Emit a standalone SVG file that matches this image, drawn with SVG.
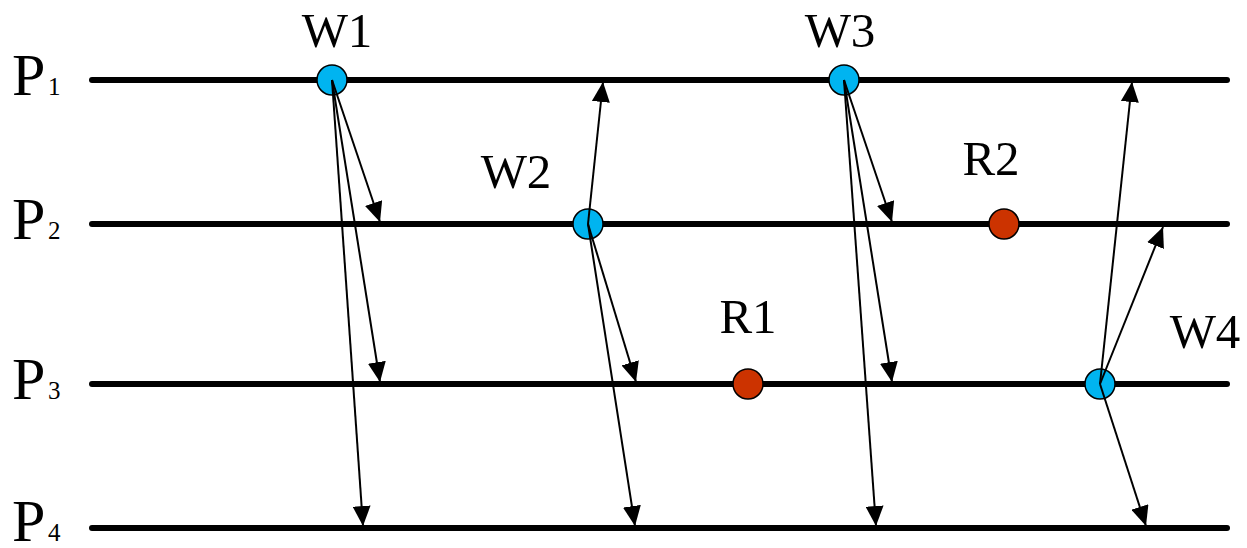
<svg xmlns="http://www.w3.org/2000/svg" width="1247" height="548" viewBox="0 0 1247 548">
<defs>
<marker id="ah" viewBox="0 0 20 18" refX="20" refY="9" markerWidth="20" markerHeight="18" markerUnits="userSpaceOnUse" orient="auto">
<path d="M0,0 L20,9 L0,18 z" fill="#000"/>
</marker>
<style>
.tl{stroke:#000;stroke-width:6;stroke-linecap:round;fill:none}
.ar{stroke:#000;stroke-width:2;fill:none;marker-end:url(#ah)}
.w{fill:#00B4F0;stroke:#000;stroke-width:1.5}
.r{fill:#CC3300;stroke:#000;stroke-width:1.5}
.lb{font-family:"Liberation Serif","Times New Roman",serif;font-size:49px;fill:#000}
.p{font-family:"Liberation Serif","Times New Roman",serif;font-size:60px;fill:#000}
.s{font-family:"Liberation Serif","Times New Roman",serif;font-size:25px;fill:#000}
</style>
</defs>
<rect width="1247" height="548" fill="#fff"/>
<g id="timelines">
<line class="tl" x1="92" y1="80" x2="1227" y2="80"/>
<line class="tl" x1="92" y1="224" x2="1227" y2="224"/>
<line class="tl" x1="92" y1="384" x2="1227" y2="384"/>
<line class="tl" x1="92" y1="528" x2="1227" y2="528"/>
</g>
<g id="process-labels">
<g id="P1"><text class="p" x="12" y="95">P</text><text class="s" x="48" y="95">1</text></g>
<g id="P2"><text class="p" x="12" y="239">P</text><text class="s" x="48" y="239">2</text></g>
<g id="P3"><text class="p" x="12" y="399">P</text><text class="s" x="48" y="399">3</text></g>
<g id="P4"><text class="p" x="12" y="541">P</text><text class="s" x="48" y="541">4</text></g>
</g>
<g id="W1"><circle class="w" cx="332" cy="80" r="15"/><text class="lb" x="337" y="47" text-anchor="middle">W1</text></g>
<g id="W2"><circle class="w" cx="588" cy="224" r="15"/><text class="lb" x="516" y="188" text-anchor="middle">W2</text></g>
<g id="W3"><circle class="w" cx="844" cy="80" r="15"/><text class="lb" x="840" y="47" text-anchor="middle">W3</text></g>
<g id="W4"><circle class="w" cx="1100" cy="384" r="15"/><text class="lb" x="1205" y="348" text-anchor="middle">W4</text></g>
<g id="R1"><circle class="r" cx="748" cy="384" r="15"/><text class="lb" x="748" y="333" text-anchor="middle">R1</text></g>
<g id="R2"><circle class="r" cx="1004" cy="224" r="15"/><text class="lb" x="991" y="175" text-anchor="middle">R2</text></g>
<g id="connectors">
<line class="ar" x1="332" y1="80" x2="380" y2="222"/>
<line class="ar" x1="332" y1="80" x2="380" y2="382"/>
<line class="ar" x1="332" y1="80" x2="363" y2="526"/>
<line class="ar" x1="588" y1="224" x2="603" y2="82"/>
<line class="ar" x1="588" y1="224" x2="636" y2="382"/>
<line class="ar" x1="588" y1="224" x2="635" y2="526"/>
<line class="ar" x1="844" y1="80" x2="892" y2="222"/>
<line class="ar" x1="844" y1="80" x2="892" y2="382"/>
<line class="ar" x1="844" y1="80" x2="876" y2="526"/>
<line class="ar" x1="1100" y1="384" x2="1132" y2="82"/>
<line class="ar" x1="1100" y1="384" x2="1163" y2="227"/>
<line class="ar" x1="1100" y1="384" x2="1146" y2="526"/>
</g>
</svg>
